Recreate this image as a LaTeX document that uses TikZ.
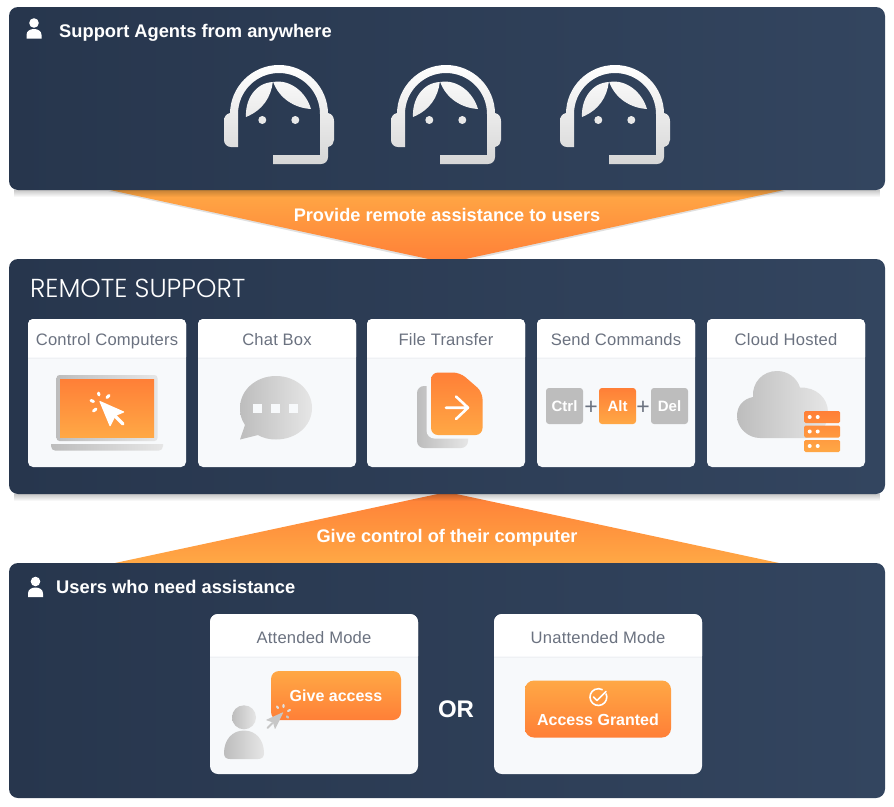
\documentclass[tikz,border=0pt]{standalone}
\usepackage{fontspec}
\setmainfont{Liberation Sans}
\newfontfamily\logofont[UprightFont=* Light]{Poppins}
\usepackage{tikz}
\usetikzlibrary{fadings}
\definecolor{panelleft}{HTML}{27364D}
\definecolor{panelright}{HTML}{33455F}
\definecolor{cardbg}{HTML}{F7F9FB}
\definecolor{cardline}{HTML}{EFF1F4}
\definecolor{cardtext}{HTML}{6B7280}
\definecolor{orangedark}{HTML}{FF7F37}
\definecolor{orangelight}{HTML}{FFA845}
\definecolor{greydark}{HTML}{BDBDBD}
\definecolor{greylight}{HTML}{E6E6E6}
\tikzset{
  panel/.style={rectangle,inner sep=0pt,rounded corners=9pt,minimum width=876pt,left color=panelleft,right color=panelright},
  card/.style={rectangle,inner sep=0pt,rounded corners=5pt,fill=cardbg},
  heading/.style={anchor=base west,inner sep=0pt,text=white,font=\fontsize{18.3}{20}\selectfont\bfseries},
  cardtitle/.style={anchor=base,inner sep=0pt,text=cardtext,font=\fontsize{16.6}{18}\selectfont\addfontfeatures{LetterSpace=1.2}},
  banner/.style={anchor=base,inner sep=0pt,text=white,font=\fontsize{18.2}{20}\selectfont\bfseries},
  keycap/.style={rectangle,inner sep=0pt,rounded corners=3pt,minimum width=37pt,minimum height=36pt,text=white,font=\fontsize{15}{16}\selectfont\bfseries},
  button/.style={rectangle,inner sep=0pt,top color=orangelight,bottom color=orangedark},
  lighttext/.style={anchor=base,inner sep=0pt,text=white,font=\fontsize{16}{18}\selectfont\bfseries},
  plustext/.style={inner sep=0pt,text=cardtext,font=\fontsize{23}{23}\selectfont},
  orangedown/.style={top color=orangedark,bottom color=orangelight},
  greyacross/.style={left color=greydark,right color=greylight},
  spark/.style={line width=3pt,line cap=round}
}
\begin{document}
\begin{tikzpicture}[x=1pt,y=1pt,yscale=-1]
    \useasboundingbox (0,0) rectangle (894,806);
    \fill[black,opacity=.12] (108,191) -- (786,191) -- (447,265) -- cycle;
    \shade[top color=orangelight,bottom color=orangedark] (110,190) -- (784,190) -- (447,263) -- cycle;
    \shade[orangedown] (115,563) -- (779,563) -- (447,492) -- cycle;
    \node[panel,minimum height=183pt] (agents) at (447,98.5) {};
    \node[panel,minimum height=235pt] (remote) at (447,376.5) {};
    \node[panel,minimum height=235pt] (users) at (447,680.5) {};
    \foreach \y in {190,494}
    \fill[black,opacity=.22,path fading=south] (14,\y) rectangle (880,\y+7);
    \foreach \x/\y in {34/23,35.5/581.5}
    \fill[white,shift={(\x,\y)}] (0,0) circle (4.8pt) (-7.5,15.5) -- (-7.5,12) .. controls (-7.5,8) and (-4,6) .. (0,6) .. controls (4,6) and (7.5,8) .. (7.5,12) -- (7.5,15.5) -- cycle;
    \node[heading] (agentstitle) at (59,37) {Support Agents from anywhere};
    \node[heading] (userstitle) at (56,593) {Users who need assistance};
    \node[banner] (provide) at (447,221) {Provide remote assistance to users};
    \node[banner] (give) at (447,542) {Give control of their computer};
    \node[anchor=base west,inner sep=0pt,text=white,font=\logofont\fontsize{26}{28}\selectfont] (remotetitle) at (30,297.5) {REMOTE SUPPORT};
    \foreach \x in {0,167,336}
    \shade[xshift=\x pt,top color=white,bottom color=black!16]
      (238,147) -- (238,114) arc[start angle=180,end angle=360,radius=41pt] -- (320,155) -- (273,155) -- (273,164) -- (321,164)
      .. controls (325,164) and (328,161) .. (328,157) -- (328,147) .. controls (332,146) and (334,143) .. (334,140) -- (334,121)
      .. controls (334,117) and (332,114) .. (328,113) -- (328,114) arc[start angle=0,end angle=-180,radius=49pt] -- (230,113)
      .. controls (226,114) and (224,117) .. (224,121) -- (224,140) .. controls (224,144) and (227,147) .. (231,147) -- cycle
      (246,117) .. controls (245,100) and (255,83) .. (272.8,82) .. controls (271,97) and (263,110) .. (246,117) -- cycle
      (273.2,82) .. controls (290,79) and (306,92) .. (311,109) .. controls (294,108) and (279,98) .. (273.2,82) -- cycle
      (262.3,120) circle (4pt) (295.3,120) circle (4pt);
    \foreach \x/\cardname/\cardtxt in {107/control/Control Computers,277/chat/Chat Box,446/file/File Transfer,616/send/Send Commands,786/cloud/Cloud Hosted}{
    \node[card,minimum width=158pt,minimum height=148pt] (\cardname) at (\x,393) {};
    \fill[white,xshift=\x pt] (-79,357) [rounded corners=5pt] -- (-79,319) -- (79,319) [sharp corners] -- (79,357) -- cycle;
    \draw[cardline,thick,xshift=\x pt] (-79,358) -- (79,358);
    \node[cardtitle] (\cardname title) at (\x,345) {\cardtxt};
    }
    % laptop
    \shade[greyacross,rounded corners=3pt] (56.5,375) rectangle (157.5,441);
    \shade[orangedown] (60,379) rectangle (154,437);
    \shade[greyacross] (51,444) -- (163,444) -- (163,446) .. controls (163,449) and (161,450.5) .. (159,450.5) -- (55,450.5) .. controls (53,450.5) and (51,449) .. (51,446) -- cycle;
    \fill[white,rounded corners=1pt] (99,400.5) -- (125,412) -- (115.5,416) -- (110,427) -- cycle;
    \draw[white,line width=3.2pt,line cap=round] (115,416) -- (123,424);
    \draw[white,spark] (98.5,393) -- (99,395);
    \draw[white,spark] (109,395.5) -- (107,397.5);
    \draw[white,spark] (91,400.5) -- (93.5,401.5);
    \draw[white,spark] (93.5,411) -- (96,409);
    % chat
    \shade[greyacross] (240,439.5) -- (245,425) .. controls (241,419) and (240,414) .. (240,408) .. controls (240,390) and (256,376) .. (276,376) .. controls (296,376) and (312,390) .. (312,408) .. controls (312,426) and (296,439.5) .. (276,439.5) .. controls (269,439.5) and (263,438) .. (258,435) -- cycle;
    \foreach \x in {257.7,275.7,293.7}
    \fill[cardbg] (\x-4.5,403.5) rectangle (\x+4.5,412.5);
    % file
    \shade[greyacross,rounded corners=7pt] (417,386) rectangle (468,448);
    \fill[cardbg,rounded corners=8pt] (426.5,370) rectangle (486,438.5);
    \shade[orangedown,rounded corners=7pt] (431,372.5) -- (460,372.5) -- (482.5,392) -- (482.5,435) -- (431,435) -- cycle;
    \draw[white,line width=2.6pt,line cap=round,line join=round] (446,407.7) -- (468,407.7) (456,396.5) -- (468,407.7) -- (456,419);
    % keys
    \node[keycap,fill=greydark] (ctrl) at (564.5,406) {Ctrl};
    \node[keycap,top color=orangedark,bottom color=orangelight] (alt) at (617.5,406) {Alt};
    \node[keycap,fill=greydark] (del) at (669.5,406) {Del};
    \node[plustext] (plusone) at (591,407.5) {+};
    \node[plustext] (plustwo) at (643,407.5) {+};
    % cloud
    \shade[greyacross] (760,438) .. controls (748,438) and (737,428) .. (737,416) .. controls (737,406) and (743,399) .. (753,397) .. controls (752,382) and (763,371) .. (777,371) .. controls (788,371) and (797,378) .. (800,387.5) .. controls (816,387) and (828,398) .. (828,412) .. controls (828,426) and (820,438) .. (806,438) -- cycle;
    \shade[orangedown,rounded corners=1.5pt] (804,411) rectangle (840,423) (804,425.5) rectangle (840,437.5) (804,440) rectangle (840,452);
    \foreach \y in {417,431.5,446}
    \fill[white] (809.7,\y) circle (2pt) (817.7,\y) circle (2pt);
    % attended
    \foreach \x/\cardname/\cardtxt in {314/attended/Attended Mode,598/unattended/Unattended Mode}{
    \node[card,rounded corners=8pt,minimum width=208pt,minimum height=160pt] (\cardname) at (\x,694) {};
    \fill[white,xshift=\x pt] (-104,656) [rounded corners=8pt] -- (-104,614) -- (104,614) [sharp corners] -- (104,656) -- cycle;
    \draw[cardline,thick,xshift=\x pt] (-104,657) -- (104,657);
    \node[cardtitle] (\cardname title) at (\x,643) {\cardtxt};
    }
    \node[button,rounded corners=8pt,minimum width=130pt,minimum height=49pt,text=white] (access) at (336,695.5) {};
    \node[lighttext] (accesstext) at (336,701.5) {Give access};
    \shade[greyacross] (244,717.3) circle (12pt);
    \shade[greyacross] (224,753) .. controls (224,740) and (232,730.5) .. (244,730.5) .. controls (256,730.5) and (264,740) .. (264,753) .. controls (264,757) and (262,759) .. (258,759) -- (230,759) .. controls (226,759) and (224,757) .. (224,753) -- cycle;
    \fill[black!22,rounded corners=.7pt] (283.5,712) -- (265.7,720) -- (273,722.5) -- (275,729.5) -- cycle;
    \draw[black!22,line width=2pt,line cap=round] (272.5,723) -- (267.5,728);
    \draw[black!12,line width=2.2pt,line cap=round] (283.5,705) -- (283.5,707) (277,706.5) -- (278,708) (290,710) -- (288,711);
    \draw[black!22,line width=2.2pt,line cap=round] (287,716.5) -- (288,717.5);
    \node[inner sep=0pt,text=white,font=\fontsize{24}{26}\selectfont\bfseries] (ortext) at (456,709.5) {OR};
    \node[button,rounded corners=9pt,minimum width=146pt,minimum height=57pt] (granted) at (598,709) {};
    \draw[white,line width=1.6pt] (606,693.5) arc[start angle=-25,end angle=300,radius=8.4pt];
    \draw[white,line width=1.6pt,line cap=round,line join=round] (593.5,697) -- (597,700.5) -- (606,691.5);
    \node[lighttext] (grantedtext) at (598,725.5) {Access Granted};
\end{tikzpicture}
\end{document}
